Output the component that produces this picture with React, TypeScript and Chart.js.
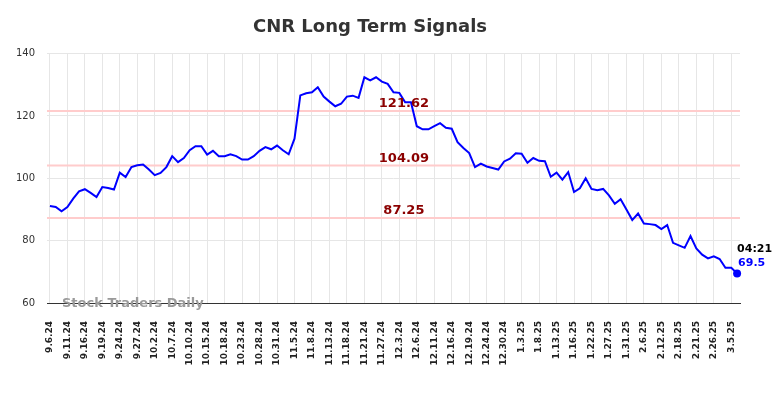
import React, { useEffect, useRef } from "react";
import { Chart, registerables } from "chart.js";

Chart.register(...registerables);

const TITLE = "CNR Long Term Signals";
const WATERMARK = "Stock Traders Daily";
const LAST_TIME = "04:21";

const DATES = [
  "9.6.24", "9.9.24", "9.10.24",
  "9.11.24", "9.12.24", "9.13.24",
  "9.16.24", "9.17.24", "9.18.24",
  "9.19.24", "9.20.24", "9.23.24",
  "9.24.24", "9.25.24", "9.26.24",
  "9.27.24", "9.30.24", "10.1.24",
  "10.2.24", "10.3.24", "10.4.24",
  "10.7.24", "10.8.24", "10.9.24",
  "10.10.24", "10.11.24", "10.14.24",
  "10.15.24", "10.16.24", "10.17.24",
  "10.18.24", "10.21.24", "10.22.24",
  "10.23.24", "10.24.24", "10.25.24",
  "10.28.24", "10.29.24", "10.30.24",
  "10.31.24", "11.1.24", "11.4.24",
  "11.5.24", "11.6.24", "11.7.24",
  "11.8.24", "11.11.24", "11.12.24",
  "11.13.24", "11.14.24", "11.15.24",
  "11.18.24", "11.19.24", "11.20.24",
  "11.21.24", "11.22.24", "11.26.24",
  "11.27.24", "11.29.24", "12.2.24",
  "12.3.24", "12.4.24", "12.5.24",
  "12.6.24", "12.9.24", "12.10.24",
  "12.11.24", "12.12.24", "12.13.24",
  "12.16.24", "12.17.24", "12.18.24",
  "12.19.24", "12.20.24", "12.23.24",
  "12.24.24", "12.26.24", "12.27.24",
  "12.30.24", "12.31.24", "1.2.25",
  "1.3.25", "1.6.25", "1.7.25",
  "1.8.25", "1.9.25", "1.10.25",
  "1.13.25", "1.14.25", "1.15.25",
  "1.16.25", "1.17.25", "1.21.25",
  "1.22.25", "1.23.25", "1.24.25",
  "1.27.25", "1.28.25", "1.30.25",
  "1.31.25", "2.3.25", "2.5.25",
  "2.6.25", "2.10.25", "2.11.25",
  "2.12.25", "2.13.25", "2.14.25",
  "2.18.25", "2.19.25", "2.20.25",
  "2.21.25", "2.24.25", "2.25.25",
  "2.26.25", "2.28.25", "3.4.25",
  "3.5.25", "3.6.25",
];

const PRICES = [
  91.1, 90.8, 89.4, 90.8, 93.5, 95.8, 96.5, 95.3, 94.0, 97.2,
  96.9, 96.4, 101.8, 100.4, 103.6, 104.2, 104.4, 102.8, 101.0, 101.7,
  103.6, 107.1, 105.2, 106.5, 109.0, 110.3, 110.3, 107.6, 108.8, 107.1,
  107.1, 107.7, 107.1, 106.0, 106.0, 107.1, 108.8, 110.0, 109.3, 110.5,
  109.0, 107.7, 112.7, 126.6, 127.3, 127.6, 129.2, 126.2, 124.6, 123.1,
  123.9, 126.2, 126.5, 125.8, 132.4, 131.4, 132.4, 131.0, 130.3, 127.6,
  127.4, 124.4, 124.4, 116.7, 115.7, 115.7, 116.7, 117.7, 116.2, 115.9,
  111.6, 109.7, 108.1, 103.6, 104.7, 103.8, 103.3, 102.8, 105.4, 106.3,
  108.0, 107.9, 105.0, 106.5, 105.6, 105.5, 100.5, 101.8, 99.6, 102.0,
  95.6, 96.8, 100.0, 96.6, 96.2, 96.6, 94.5, 91.8, 93.3, 90.0,
  86.6, 88.7, 85.5, 85.3, 85.0, 83.7, 85.0, 79.3, 78.5, 77.7,
  81.5, 77.5, 75.5, 74.3, 75.0, 74.1, 71.3, 71.3, 69.5,
];

const LEVELS = [121.62, 104.09, 87.25];
const LEVEL_LABELS = ["121.62", "104.09", "87.25"];

const Y_MIN = 60;
const Y_MAX = 140;
const Y_STEP = 20;
const LABEL_EVERY = 3;

const FONT = "'DejaVu Sans', sans-serif";

const overlayPlugin = {
  id: "overlay",
  beforeDatasetsDraw(chart: any) {
    const { ctx, chartArea, scales } = chart;
    const y = scales.y;
    ctx.save();
    ctx.strokeStyle = "#ffcccc";
    ctx.lineWidth = 2;
    LEVELS.forEach((v) => {
      const py = y.getPixelForValue(v);
      ctx.beginPath();
      ctx.moveTo(chartArea.left, py);
      ctx.lineTo(chartArea.right, py);
      ctx.stroke();
    });
    ctx.font = `bold 13px ${FONT}`;
    ctx.fillStyle = "#9a9a9a";
    ctx.textAlign = "left";
    ctx.textBaseline = "alphabetic";
    ctx.fillText(WATERMARK, chartArea.left + 15, chartArea.bottom + 4);
    ctx.restore();
  },
  afterDatasetsDraw(chart: any) {
    const { ctx, chartArea, scales } = chart;
    const y = scales.y;
    const x = scales.x;
    ctx.save();
    ctx.font = `bold 13px ${FONT}`;
    ctx.fillStyle = "#8b0000";
    ctx.textAlign = "center";
    ctx.textBaseline = "alphabetic";
    const cx = chartArea.left + chartArea.width * 0.515;
    LEVELS.forEach((v, i) => {
      const py = y.getPixelForValue(v);
      ctx.fillText(LEVEL_LABELS[i], cx, py - 4);
    });
    const li = PRICES.length - 1;
    const px = x.getPixelForValue(li);
    const py = y.getPixelForValue(PRICES[li]);
    ctx.textAlign = "left";
    ctx.textBaseline = "middle";
    ctx.font = `bold 11px ${FONT}`;
    ctx.fillStyle = "#000000";
    ctx.fillText(LAST_TIME, px, py - 24);
    ctx.fillStyle = "#0000ff";
    ctx.fillText(String(PRICES[li]), px + 1, py - 10);
    ctx.restore();
  },
};

export default function App() {
  const ref = useRef<HTMLCanvasElement | null>(null);

  useEffect(() => {
    const canvas = ref.current;
    if (!canvas) return;
    const chart = new Chart(canvas, {
      type: "line",
      data: {
        labels: DATES,
        datasets: [
          {
            data: PRICES,
            borderColor: "#0000ff",
            backgroundColor: "#0000ff",
            borderWidth: 2,
            tension: 0,
            fill: false,
            pointRadius: (c: any) => (c.dataIndex === PRICES.length - 1 ? 4 : 0),
            pointBackgroundColor: "#0000ff",
            pointBorderWidth: 0,
            pointHoverRadius: 0,
          },
        ],
      },
      options: {
        responsive: false,
        animation: false,
        events: [],
        layout: { padding: { left: 0, right: 44, top: 0, bottom: 0 } },
        plugins: {
          legend: { display: false },
          tooltip: { enabled: false },
          title: {
            display: true,
            text: TITLE,
            color: "#333333",
            font: { family: FONT, size: 18, weight: "bold" },
            padding: { top: 17, bottom: 15 },
          },
        },
        scales: {
          x: {
            type: "category",
            offset: true,
            grid: {
              offset: false,
              drawTicks: false,
              lineWidth: 1,
              color: (c: any) => (c.index % LABEL_EVERY === 0 ? "#e6e6e6" : "rgba(0,0,0,0)"),
            },
            border: { display: true, color: "#333333", width: 1 },
            ticks: {
              autoSkip: false,
              maxRotation: 90,
              minRotation: 90,
              padding: 18,
              color: "#222222",
              font: { family: FONT, size: 9, weight: "bold" },
              callback: (_v: any, i: number) => (i % LABEL_EVERY === 0 ? DATES[i] : ""),
            },
            afterFit: (s: any) => {
              s.height = 95;
            },
          },
          y: {
            min: Y_MIN,
            max: Y_MAX,
            grid: { drawTicks: false, color: "#e6e6e6", lineWidth: 1 },
            border: { display: false },
            ticks: {
              stepSize: Y_STEP,
              padding: 12,
              color: "#333333",
              font: { family: FONT, size: 10 },
            },
            afterFit: (s: any) => {
              s.width = 47;
            },
          },
        },
      },
      plugins: [overlayPlugin],
    } as any);
    return () => chart.destroy();
  }, []);

  return (
    <div style={{ position: "fixed", left: 0, top: 0, width: 784, height: 398, background: "#ffffff" }}>
      <canvas ref={ref} width={784} height={398} style={{ display: "block", width: 784, height: 398 }} />
    </div>
  );
}
